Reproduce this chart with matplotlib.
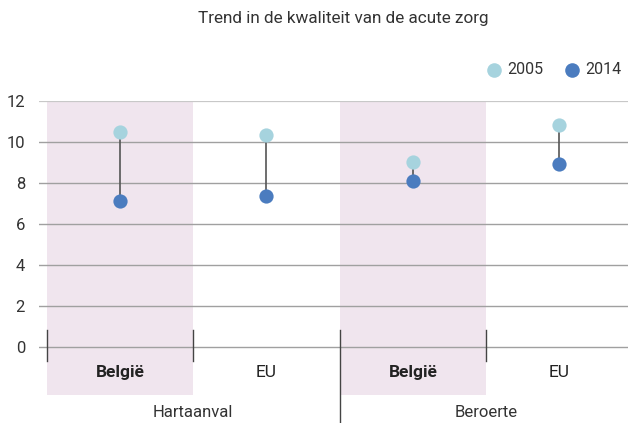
import matplotlib
matplotlib.use("Agg")
import matplotlib.pyplot as plt

plt.rcParams['font.family'] = ['Roboto', 'DejaVu Sans']

categories = ["België", "EU", "België", "EU"]
groups = ["Hartaanval", "Beroerte"]
v2005 = [10.5, 10.35, 9.0, 10.85]
v2014 = [7.1, 7.35, 8.1, 8.95]
yticks = [0, 2, 4, 6, 8, 10, 12]

c05 = "#a6d3de"
c14 = "#4b7cbf"
pink = "#f0e5ee"
txt = "#333333"

fig = plt.figure(figsize=(6.28, 4.23), dpi=100)
ppu = 20.5
ybot = 12 - (395 - 101) / ppu
ax = fig.add_axes([39/628, 1 - 395/423, (628-39)/628, (395-101)/423])
ax.set_xlim(-0.554, 3.47)
ax.set_ylim(ybot, 12)
for s in ax.spines.values():
    s.set_visible(False)
ax.set_xticks([])
ax.set_yticks(yticks)
ax.set_yticklabels([str(t) for t in yticks], fontsize=12, color=txt)
ax.tick_params(axis='y', length=0, pad=10)

for i, c in enumerate(categories):
    if c == "België":
        ax.axvspan(i - 0.5, i + 0.5, color=pink, zorder=0, lw=0)
for t in yticks:
    ax.axhline(t, color="#a0a0a0" if t != 12 else "#c8c8c8", lw=1 if t != 12 else 1.6, zorder=1)

xs = list(range(len(categories)))
for i in xs:
    ax.plot([i, i], [v2005[i], v2014[i]], color="#555555", lw=1.2, zorder=2)
ax.scatter(xs, v2005, s=105, color=c05, zorder=3, lw=0)
ax.scatter(xs, v2014, s=105, color=c14, zorder=3, lw=0)

for i, c in enumerate(categories):
    ax.text(i, -1.22, c, ha='center', va='center', fontsize=12.5, color="#222222",
            fontweight='bold' if c == "België" else 'normal')

for xb in [-0.5, 0.5, 2.5]:
    ax.plot([xb, xb], [0.83, -0.68], color="#444444", lw=1, clip_on=False, zorder=2)
ax.plot([1.5, 1.5], [0.83, -3.8], color="#444444", lw=1, clip_on=False, zorder=2)

for gi, g in enumerate(groups):
    ax.text(0.5 + 2 * gi, 12 - (412 - 101) / ppu, g, ha='center', va='center',
            fontsize=12, color=txt, clip_on=False)

fig.text(343/628, 1 - 18/423, "Trend in de kwaliteit van de acute zorg", ha='center', va='center',
         fontsize=12.3, color=txt)

for xm, lab, col in [(494, "2005", c05), (572, "2014", c14)]:
    fig.add_artist(plt.Line2D([xm/628], [1 - 70/423], marker='o', markersize=10.5, color=col,
                              markeredgewidth=0, linestyle='none', transform=fig.transFigure))
    fig.text((xm + 13)/628, 1 - 70/423, lab, ha='left', va='center', fontsize=11.5, color=txt)

fig.savefig("out.png", dpi=100)
